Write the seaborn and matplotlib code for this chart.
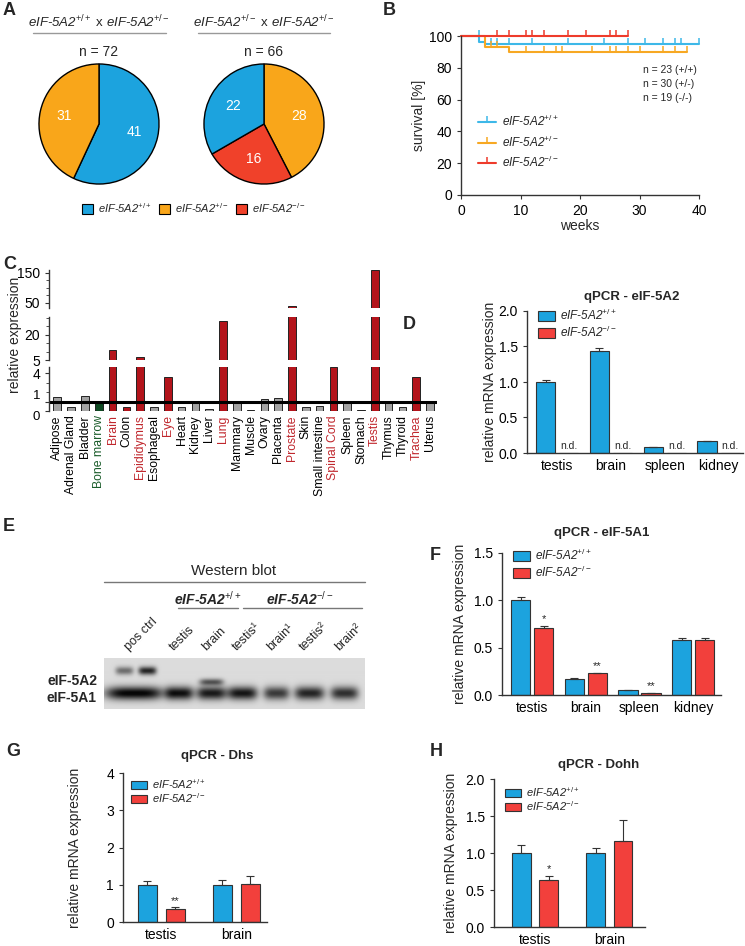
import numpy as np
import pandas as pd
import matplotlib
matplotlib.use('Agg')
import matplotlib.pyplot as plt
import seaborn as sns
from matplotlib.patches import Patch
from matplotlib.lines import Line2D

sns.set_style('ticks')
plt.rcParams['font.family'] = ['Liberation Sans', 'DejaVu Sans']
plt.rcParams['mathtext.fontset'] = 'custom'
plt.rcParams['mathtext.rm'] = 'Liberation Sans'
plt.rcParams['mathtext.it'] = 'Liberation Sans:italic'
plt.rcParams['mathtext.bf'] = 'Liberation Sans:bold'
plt.rcParams['axes.edgecolor'] = '#333333'
plt.rcParams['axes.linewidth'] = 1.0
plt.rcParams['xtick.color'] = '#333333'
plt.rcParams['ytick.color'] = '#333333'
plt.rcParams['xtick.labelcolor'] = 'black'
plt.rcParams['ytick.labelcolor'] = 'black'
plt.rcParams['xtick.labelsize'] = 10
plt.rcParams['ytick.labelsize'] = 10
plt.rcParams['xtick.major.size'] = 3
plt.rcParams['ytick.major.size'] = 3
plt.rcParams['ytick.minor.size'] = 2

# ---------------- data ----------------
# A: offspring genotype counts
cross1_counts = [41, 31]          # +/+, +/-
cross2_counts = [28, 16, 22]      # +/-, -/-, +/+

# B: Kaplan-Meier steps (weeks, % survival) and censor times
wt_t = [0, 3, 4, 40]
wt_s = [100, 96.4, 95.0, 95.0]
het_t = [0, 4, 8, 38]
het_s = [100, 93.3, 89.9, 89.9]
ko_t = [0, 28]
ko_s = [100, 100]
wt_cens = [3, 5, 6, 8, 12, 18, 24, 28, 31, 34, 36, 37, 40]
het_cens = [5, 6, 11, 14, 16, 17, 22, 25, 26, 28, 30, 34, 36, 38]
ko_cens = [6, 8, 11, 12, 14, 18, 21, 25, 26, 28]
n_text = ['n = 23 (+/+)', 'n = 30 (+/-)', 'n = 19 (-/-)']

# C: tissue expression
tissues = ['Adipose', 'Adrenal Gland', 'Bladder', 'Bone marrow', 'Brain', 'Colon',
           'Epididymus', 'Esophageal', 'Eye', 'Heart', 'Kidney', 'Liver', 'Lung',
           'Mammary', 'Muscle', 'Ovary', 'Placenta', 'Prostate', 'Skin',
           'Small intestine', 'Spinal Cord', 'Spleen', 'Stomach', 'Testis',
           'Thymus', 'Thyroid', 'Trachea', 'Uterus']
expr = [1.5, 0.4, 1.6, 1.05, 10.8, 0.4, 6.7, 0.4, 3.6, 0.45, 1.1, 0.2, 28,
        1.1, 0.15, 1.25, 1.4, 40, 0.4, 0.55, 4.7, 1.0, 0.12, 160,
        1.05, 0.45, 3.6, 0.95]
enriched = ['Brain', 'Epididymus', 'Eye', 'Lung', 'Prostate', 'Spinal Cord', 'Testis', 'Trachea']

# D: qPCR eIF-5A2
qpcr_tissues = ['testis', 'brain', 'spleen', 'kidney']
a2_wt = [1.0, 1.43, 0.08, 0.17]
a2_wt_err = [0.03, 0.05, 0.005, 0.005]
a2_ko = [0, 0, 0, 0]   # n.d.
a2_ko_err = [0, 0, 0, 0]

# F: qPCR eIF-5A1
a1_wt = [1.0, 0.17, 0.05, 0.58]
a1_wt_err = [0.04, 0.01, 0.003, 0.02]
a1_ko = [0.71, 0.23, 0.02, 0.58]
a1_ko_err = [0.02, 0.004, 0.002, 0.02]
a1_stars = ['*', '**', '**', '']

# G: qPCR Dhs
small_tissues = ['testis', 'brain']
dhs_wt = [1.0, 1.0]
dhs_wt_err = [0.1, 0.12]
dhs_ko = [0.35, 1.03]
dhs_ko_err = [0.05, 0.2]
dhs_stars = ['**', '']

# H: qPCR Dohh
dohh_wt = [1.0, 1.0]
dohh_wt_err = [0.11, 0.07]
dohh_ko = [0.63, 1.16]
dohh_ko_err = [0.06, 0.29]
dohh_stars = ['*', '']

# E: western blot band strengths per lane
lanes = ['pos ctrl', 'testis', 'brain', 'testis¹', 'brain¹', 'testis²', 'brain²']
band_5a1 = [1.0, 0.95, 0.9, 0.92, 0.75, 0.85, 0.8]
band_5a2 = [0.85, 0.0, 0.6, 0.0, 0.0, 0.0, 0.0]

BLUE = '#1CA3DE'
ORANGE = '#F9A61A'
RED = '#F2403C'
PIE_RED = '#F0412A'
DARKRED = '#B3141B'
GRAY = '#A3A3A3'
LBL_RED = '#C0272D'
WT = 'eIF-5A2$^{+/+}$'
HET = 'eIF-5A2$^{+/-}$'
KO = 'eIF-5A2$^{-/-}$'

W, H = 745, 946
fig = plt.figure(figsize=(W / 100, H / 100), dpi=100)


def rect(l, t, r, b):
    return [l / W, 1 - b / H, (r - l) / W, (b - t) / H]


def T(x, y, s, **kw):
    return fig.text(x / W, 1 - y / H, s, **kw)


def letter(x, y, s):
    T(x, y, s, fontsize=13, fontweight='bold', va='top', ha='left')


# ---------------- A ----------------
letter(3, 2, 'A')
for cx, counts, cols, title, ntxt, x0, x1 in [
        (99, cross1_counts, [BLUE, ORANGE], 'eIF-5A2$^{+/+}\\ \\mathrm{x}\\ $eIF-5A2$^{+/-}$', 'n = 72', 33, 166),
        (264, cross2_counts, [ORANGE, PIE_RED, BLUE], 'eIF-5A2$^{+/-}\\ \\mathrm{x}\\ $eIF-5A2$^{+/-}$', 'n = 66', 198, 330)]:
    ax = fig.add_axes(rect(cx - 62, 62, cx + 62, 186))
    tot = sum(counts)
    ax.pie(counts, colors=cols, startangle=90, counterclock=False,
           wedgeprops=dict(edgecolor='black', linewidth=1),
           autopct=lambda p, tot=tot: f'{p * tot / 100:.0f}', pctdistance=0.6,
           textprops=dict(color='white', fontsize=10))
    ax.set_xlim(-1.033, 1.033)
    ax.set_ylim(-1.033, 1.033)
    T(cx, 22, title, fontsize=9.5, style='italic', ha='center', va='center')
    fig.add_artist(Line2D([x0 / W, x1 / W], [1 - 33 / H] * 2, color='#999999', lw=1))
    T(cx, 52, ntxt, fontsize=10, ha='center', va='center')

handles = [Patch(facecolor=c, edgecolor='black', lw=0.8) for c in [BLUE, ORANGE, PIE_RED]]
fig.legend(handles, [WT, HET, KO], loc='center left', bbox_to_anchor=(82 / W, 1 - 208 / H),
           ncol=3, frameon=False, prop={'style': 'italic', 'size': 8},
           handlelength=1.0, handleheight=0.9, handletextpad=0.4, columnspacing=0.7,
           borderpad=0, borderaxespad=0)

# ---------------- B ----------------
letter(383, 2, 'B')
axb = fig.add_axes(rect(461, 36, 699, 195))


def surv_at(ts, ss, t):
    i = np.searchsorted(ts, t, side='left') - 1
    return ss[max(i, 0)]


curve_cols = ['#3DB8E8', '#F7A823', '#EE3B2B']
for ts, ss, cens, col in [(wt_t, wt_s, wt_cens, curve_cols[0]),
                          (het_t, het_s, het_cens, curve_cols[1]),
                          (ko_t, ko_s, ko_cens, curve_cols[2])]:
    sns.lineplot(x=ts, y=ss, drawstyle='steps-post', color=col, lw=1.5, ax=axb,
                 estimator=None, clip_on=False)
    axb.plot(cens, [surv_at(ts, ss, t) for t in cens], ls='none', marker=2,
             ms=4.5, mew=1.1, color=col, clip_on=False)
axb.set_xlim(0, 40)
axb.set_ylim(0, 100)
axb.set_xticks([0, 10, 20, 30, 40])
axb.set_yticks([0, 20, 40, 60, 80, 100])
axb.set_xlabel('weeks', fontsize=10, labelpad=1)
axb.set_ylabel('survival [%]', fontsize=10, labelpad=2)
sns.despine(ax=axb)
for i, s in enumerate(n_text):
    T(643, 70 + i * 14, s, fontsize=7.5, ha='left', va='center')
lh = [Line2D([], [], color=c, lw=1.5, marker=2, ms=4.5, mew=1.1) for c in curve_cols]
axb.legend(lh, [WT, HET, KO], loc='upper left', bbox_to_anchor=(478 / W, 1 - 114 / H),
           bbox_transform=fig.transFigure, frameon=False, numpoints=1,
           prop={'style': 'italic', 'size': 8.5}, handlelength=1.5,
           handletextpad=0.5, labelspacing=0.45, borderpad=0, borderaxespad=0)

# ---------------- C ----------------
letter(3, 256, 'C')
dfc = pd.DataFrame({'tissue': tissues, 'expr': expr})
pal = {}
for t in tissues:
    if t in enriched or t == 'Colon':
        pal[t] = DARKRED
    elif t == 'Bone marrow':
        pal[t] = '#0E4A22'
    elif t == 'Stomach':
        pal[t] = '#222222'
    else:
        pal[t] = GRAY
segments = [((49, 270, 437, 308), (33, 160), [50, 150], [75, 100, 125]),
            ((49, 317, 437, 360), (5, 30.5), [5, 20], [10, 15, 25, 30]),
            ((49, 367, 437, 411), (0, 4.65), [0, 1, 4], [2, 3])]
for k, (box, yl, maj, mnr) in enumerate(segments):
    ax = fig.add_axes(rect(*box))
    sns.barplot(data=dfc, x='tissue', y='expr', hue='tissue', palette=pal,
                order=tissues, width=0.55, saturation=1, edgecolor='#222222',
                linewidth=0.7, legend=False, ax=ax)
    ax.set_xlim(-0.6, 27.5)
    ax.set_ylim(*yl)
    ax.set_yticks(maj)
    ax.set_yticks(mnr, minor=True)
    ax.set_xlabel('')
    ax.set_ylabel('')
    for sp in ['top', 'right', 'bottom']:
        ax.spines[sp].set_visible(False)
    if k < 2:
        ax.set_xticks([])
    else:
        ax.axhline(1, color='black', lw=2.2)
        ax.tick_params(axis='x', length=0, pad=3, labelsize=8.8, rotation=90)
        for lab in ax.get_xticklabels():
            t = lab.get_text()
            if t in enriched:
                lab.set_color(LBL_RED)
            elif t == 'Bone marrow':
                lab.set_color('#1A5C2A')
        ylabs = ax.get_yticklabels()
        ylabs[1].set_va('bottom')
        ylabs[0].set_va('top')
        ylabs[0].set_fontsize(9.5)
        ylabs[1].set_fontsize(9.5)
T(15, 335, 'relative expression', fontsize=10, rotation=90, ha='center', va='center')


# ---------------- qPCR helper ----------------
def qpcr(box, tis, wt, wt_err, ko, ko_err, ylim, yticks, fmt, xlim, width, gap,
         title, title_xy, leg_xy, ylab_x, stars=None, nd=False, leg_fs=8.5, ls=0.15):
    ax = fig.add_axes(rect(*box))
    n = len(tis)
    df = pd.DataFrame({'tissue': tis * 2, 'genotype': ['wt'] * n + ['ko'] * n,
                       'value': wt + ko})
    sns.barplot(data=df, x='tissue', y='value', hue='genotype', order=tis,
                hue_order=['wt', 'ko'], palette={'wt': BLUE, 'ko': RED},
                width=width, gap=gap, saturation=1, edgecolor='#333333', linewidth=0.8,
                errorbar=None, legend=False, ax=ax)
    bars = sorted(ax.patches, key=lambda b: b.get_x())
    vals, errs, marks = [], [], []
    for i in range(n):
        vals += [wt[i], ko[i]]
        errs += [wt_err[i], ko_err[i]]
        marks += ['', stars[i] if stars else '']
    for b, v, e, m in zip(bars, vals, errs, marks):
        xc = b.get_x() + b.get_width() / 2
        if e > 0:
            ax.errorbar([xc], [v], yerr=[[0], [e]], fmt='none', ecolor='#333333',
                        elinewidth=0.8, capsize=3, capthick=0.8)
        if m:
            ax.annotate(m, (xc, v + e), xytext=(0, 1), textcoords='offset points',
                        ha='center', va='bottom', fontsize=8)
    if nd:
        for b in bars[1::2]:
            ax.text(b.get_x() + b.get_width() / 2, 0.03, 'n.d.', fontsize=7.5,
                    ha='center', va='bottom')
    ax.set_xlim(*xlim)
    ax.set_ylim(*ylim)
    ax.set_yticks(yticks)
    ax.set_yticklabels([fmt.format(v) for v in yticks])
    ax.tick_params(axis='x', length=0, pad=4)
    ax.set_xlabel('')
    ax.set_ylabel('relative mRNA expression', fontsize=10)
    l, t, r, b = box
    ax.yaxis.set_label_coords((ylab_x - l) / (r - l), 0.5)
    sns.despine(ax=ax)
    T(title_xy[0], title_xy[1], title, fontsize=9.5, fontweight='bold', ha='center', va='center')
    hs = [Patch(facecolor=BLUE, edgecolor='#333333', lw=0.8),
          Patch(facecolor=RED, edgecolor='#333333', lw=0.8)]
    ax.legend(hs, [WT, KO], loc='upper left', bbox_to_anchor=(leg_xy[0] / W, 1 - leg_xy[1] / H),
              bbox_transform=fig.transFigure, frameon=False,
              prop={'style': 'italic', 'size': leg_fs}, handlelength=1.45,
              handleheight=0.85, handletextpad=0.4, labelspacing=ls,
              borderpad=0, borderaxespad=0)
    return ax


letter(403, 316, 'D')
qpcr((527, 311, 743, 453), qpcr_tissues, a2_wt, a2_wt_err, a2_ko, a2_ko_err,
     (0, 2.0), [0, 0.5, 1.0, 1.5, 2.0], '{:.1f}', (-0.56, 3.45), 0.86, 0.16,
     'qPCR - eIF-5A2', (632, 297), (538, 308), 497, nd=True)

letter(430, 547, 'F')
qpcr((502, 553, 721, 695), qpcr_tissues, a1_wt, a1_wt_err, a1_ko, a1_ko_err,
     (0, 1.5), [0, 0.5, 1.0, 1.5], '{:.1f}', (-0.56, 3.52), 0.86, 0.16,
     'qPCR - eIF-5A1', (602, 533), (513, 548), 467, stars=a1_stars)

letter(6, 743, 'G')
qpcr((123, 773, 267, 922), small_tissues, dhs_wt, dhs_wt_err, dhs_ko, dhs_ko_err,
     (0, 4), [0, 1, 2, 3, 4], '{:.0f}', (-0.51, 1.41), 0.74, 0.32,
     'qPCR - Dhs', (217, 756), (131, 777), 82, stars=dhs_stars, leg_fs=8, ls=0.02)

letter(430, 743, 'H')
qpcr((494, 779, 645, 927), small_tissues, dohh_wt, dohh_wt_err, dohh_ko, dohh_ko_err,
     (0, 2.0), [0, 0.5, 1.0, 1.5, 2.0], '{:.1f}', (-0.55, 1.48), 0.74, 0.32,
     'qPCR - Dohh', (599, 765), (505, 785), 458, stars=dohh_stars, leg_fs=8, ls=0.02)

# ---------------- E ----------------
letter(3, 518, 'E')
lane_cx = [30, 75, 107, 138, 172, 205, 240]
lane_w = [58, 28, 30, 30, 26, 30, 28]
yy, xx = np.mgrid[0:51, 0:261]
img = np.full(xx.shape, 0.86)
for cx, w, a in zip(lane_cx, lane_w, band_5a1):
    img -= 0.85 * a * np.exp(-np.abs((xx - cx) / (w / 2)) ** 4) * np.exp(-((yy - 35) / 6.5) ** 2)
# upper band: pos ctrl doublet, brain single band
for i, a in enumerate(band_5a2):
    if a <= 0:
        continue
    if i == 0:
        for dx, f in [(-10, 0.6), (13, 1.0)]:
            img -= 0.85 * a * f * np.exp(-np.abs((xx - lane_cx[i] - dx) / 9) ** 4) * np.exp(-((yy - 13) / 4) ** 2)
    else:
        img -= 0.85 * a * np.exp(-np.abs((xx - lane_cx[i]) / 12) ** 4) * np.exp(-((yy - 24) / 3.2) ** 2)
img = np.clip(img, 0.03, 1)
axe = fig.add_axes(rect(104, 658, 365, 709))
axe.imshow(img, cmap='gray', vmin=0, vmax=1, aspect='auto', interpolation='bilinear')
axe.axis('off')
T(97, 681, 'eIF-5A2', fontsize=10, fontweight='bold', ha='right', va='center')
T(97, 698, 'eIF-5A1', fontsize=10, fontweight='bold', ha='right', va='center')
T(234, 571, 'Western blot', fontsize=11, ha='center', va='center')
fig.add_artist(Line2D([104 / W, 365 / W], [1 - 582 / H] * 2, color='#777777', lw=1))
T(208, 599, WT, fontsize=10, fontweight='bold', style='italic', ha='center', va='center')
fig.add_artist(Line2D([178 / W, 238 / W], [1 - 608 / H] * 2, color='#777777', lw=1))
T(300, 599, KO, fontsize=10, fontweight='bold', style='italic', ha='center', va='center')
fig.add_artist(Line2D([243 / W, 362 / W], [1 - 608 / H] * 2, color='#777777', lw=1))
for name, cx in zip(lanes, lane_cx):
    T(104 + cx - 5, 651, name, fontsize=9, rotation=45, rotation_mode='anchor',
      ha='left', va='baseline')

fig.savefig('out.png', dpi=100)
